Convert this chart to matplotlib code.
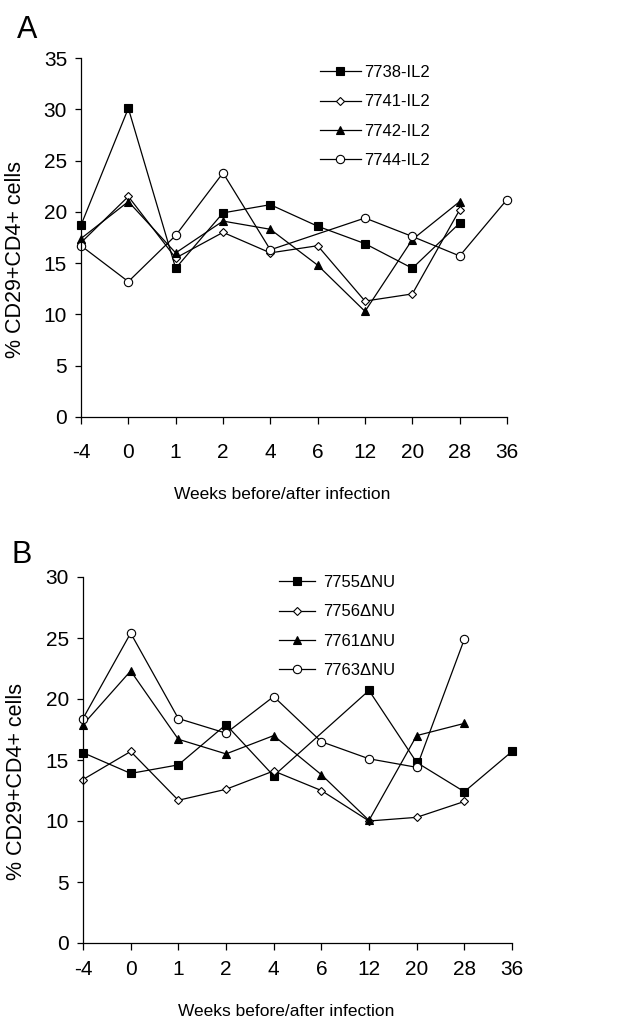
import matplotlib
matplotlib.use('Agg')
import matplotlib.pyplot as plt
import numpy as np

plt.rcParams['font.family'] = ['Liberation Sans', 'DejaVu Sans']

weeks = ['-4', '0', '1', '2', '4', '6', '12', '20', '28', '36']
nan = np.nan

# panel A: IL2 group
names_a = ['7738-IL2', '7741-IL2', '7742-IL2', '7744-IL2']
a_7738 = [18.7, 30.1, 14.5, 19.9, 20.7, 18.6, 16.9, 14.5, 18.9, nan]
a_7741 = [17.0, 21.5, 15.5, 18.0, 16.0, 16.7, 11.3, 12.0, 20.2, nan]
a_7742 = [17.4, 21.0, 16.0, 19.1, 18.3, 14.8, 10.3, 17.3, 21.0, nan]
a_7744 = [16.7, 13.2, 17.7, 23.8, 16.3, nan, 19.4, 17.6, 15.7, 21.2]

# panel B: deltaNU group
names_b = ['7755\u0394NU', '7756\u0394NU', '7761\u0394NU', '7763\u0394NU']
b_7755 = [15.6, 13.9, 14.6, 17.9, 13.7, nan, 20.7, 14.8, 12.4, 15.7]
b_7756 = [13.4, 15.7, 11.7, 12.6, 14.1, 12.5, 10.0, 10.3, 11.6, nan]
b_7761 = [17.9, 22.3, 16.7, 15.5, 17.0, 13.8, 10.05, 17.0, 18.0, nan]
b_7763 = [18.4, 25.4, 18.4, 17.2, 20.2, 16.5, 15.1, 14.4, 24.9, nan]

styles = [
    dict(marker='s', markersize=6, markerfacecolor='black'),
    dict(marker='D', markersize=4, markerfacecolor='white'),
    dict(marker='^', markersize=6, markerfacecolor='black'),
    dict(marker='o', markersize=6, markerfacecolor='white'),
]


def draw_panel(ax, series, names, ymax, legend_anchor, xpad, xlab_y, handlelen, textpad):
    x = np.arange(len(weeks))
    for vals, name, st in zip(series, names, styles):
        v = np.array(vals, dtype=float)
        m = ~np.isnan(v)
        ax.plot(x[m], v[m], color='black', linewidth=0.9, markeredgecolor='black',
                markeredgewidth=0.8, label=name, clip_on=False, **st)
    ax.set_xlim(0, len(weeks) - 1)
    ax.set_ylim(0, ymax)
    ax.set_xticks(x)
    ax.set_xticklabels(weeks)
    ax.set_yticks(np.arange(0, ymax + 1, 5))
    ax.spines['right'].set_visible(False)
    ax.spines['top'].set_visible(False)
    ax.spines['left'].set_linewidth(0.9)
    ax.spines['bottom'].set_linewidth(0.9)
    ax.tick_params(axis='x', direction='out', length=5, width=0.9, pad=xpad, labelsize=15)
    ax.tick_params(axis='y', direction='out', length=4, width=0.9, pad=6, labelsize=15)
    ax.set_xlabel('Weeks before/after infection', fontsize=12.5)
    ax.xaxis.set_label_coords(0.473, xlab_y)
    ax.set_ylabel('% CD29+CD4+ cells', fontsize=15.5)
    ax.yaxis.set_label_coords(-0.13, 0.44)
    ax.legend(loc='upper left', bbox_to_anchor=legend_anchor, frameon=False,
              fontsize=12, handlelength=handlelen, handletextpad=textpad, labelspacing=0.85,
              borderpad=0, borderaxespad=0)


fig = plt.figure(figsize=(6.39, 10.19), dpi=100)

ax_a = fig.add_axes([81 / 639, 602 / 1019, 426 / 639, 359 / 1019])
draw_panel(ax_a, [a_7738, a_7741, a_7742, a_7744], names_a, 35, (0.56, 0.98),
           14, -0.196, 2.5, 0.2)
fig.text(27 / 639, 1 - 30 / 1019, 'A', fontsize=22, ha='center', va='center')

ax_b = fig.add_axes([83 / 639, 76 / 1019, 429 / 639, 366 / 1019])
draw_panel(ax_b, [b_7755, b_7756, b_7761, b_7763], names_b, 30, (0.456, 1.005),
           7, -0.166, 2.2, 0.5)
fig.text(22 / 639, 1 - 555 / 1019, 'B', fontsize=22, ha='center', va='center')

fig.savefig('out.png', dpi=100)
